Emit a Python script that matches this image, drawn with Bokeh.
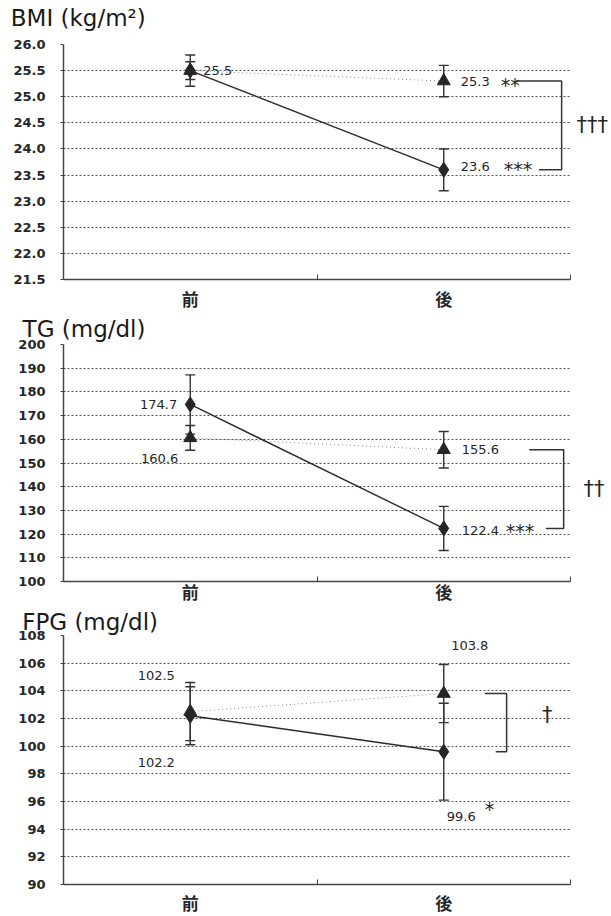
from bokeh.plotting import figure
from bokeh.layouts import column
from bokeh.models import (ColumnDataSource, Whisker, TeeHead, Label, FixedTicker,
                          Range1d, NumeralTickFormatter, LinearAxis, CustomJSTickFormatter)
from bokeh.embed import file_html
from bokeh.resources import INLINE

# ---------------- data ----------------
categories = ["前", "後"]
cat_x = [0, 1]

# diamond series (solid line) and triangle series (dotted line)
bmi_diamond = [25.5, 23.6]
bmi_diamond_se = [0.30, 0.40]
bmi_triangle = [25.5, 25.3]
bmi_triangle_se = [0.17, 0.30]
bmi_ticks = [21.5, 22.0, 22.5, 23.0, 23.5, 24.0, 24.5, 25.0, 25.5, 26.0]

tg_diamond = [174.7, 122.4]
tg_diamond_se = [12.5, 9.3]
tg_triangle = [160.6, 155.6]
tg_triangle_se = [5.2, 7.7]
tg_ticks = [100, 110, 120, 130, 140, 150, 160, 170, 180, 190, 200]

fpg_diamond = [102.2, 99.6]
fpg_diamond_se = [2.1, 3.5]
fpg_triangle = [102.5, 103.8]
fpg_triangle_se = [2.1, 2.1]
fpg_ticks = [90, 92, 94, 96, 98, 100, 102, 104, 106, 108]

bmi_sig = {"triangle_post": "**", "diamond_post": "***", "between": "†††"}
tg_sig = {"diamond_post": "***", "between": "††"}
fpg_sig = {"diamond_post": "*", "between": "†"}

NUM_FONT = "DejaVu Sans"
CAT_FONT = "DejaVu Sans, Noto Sans CJK JP"
INK = "#262626"
W = 611


def text_axis(text, tick, size, standoff):
    """An axis without line/ticks that only carries one text label."""
    return LinearAxis(ticker=FixedTicker(ticks=[tick]),
                      formatter=CustomJSTickFormatter(code="return %r;" % text),
                      axis_line_color=None, major_tick_line_color=None,
                      minor_tick_line_color=None, major_tick_in=0, major_tick_out=0,
                      major_label_text_font=NUM_FONT, major_label_text_font_size=size,
                      major_label_text_color=INK, major_label_standoff=standoff)


def make_panel(title, title_x, title_gap, ticks, fmt, dia, dia_se, tri, tri_se, height,
               border_top, border_bottom, border_left, cat_standoff, labels, bracket,
               dagger, dagger_outside, dagger_standoff=2):
    p = figure(width=W, height=height, output_backend="svg", toolbar_location=None,
               x_range=Range1d(-0.5, 1.5), y_range=Range1d(ticks[0], ticks[-1]),
               min_border_left=border_left, min_border_right=33,
               min_border_top=border_top, min_border_bottom=border_bottom)
    p.outline_line_color = None
    p.background_fill_color = "white"

    # panel title, carried by a bare axis above the frame
    tax = text_axis(title, title_x, "23px", title_gap)
    tax.major_label_text_color = "#1a1a1a"
    p.add_layout(tax, "above")

    # axes
    p.yaxis.ticker = FixedTicker(ticks=ticks)
    p.yaxis.formatter = NumeralTickFormatter(format=fmt)
    p.yaxis.major_label_text_font = NUM_FONT
    p.yaxis.major_label_text_font_style = "bold"
    p.yaxis.major_label_text_font_size = "13px"
    p.yaxis.major_label_text_color = INK
    p.yaxis.major_label_standoff = 15
    p.yaxis.major_tick_out = 3
    p.yaxis.major_tick_in = 0
    p.yaxis.minor_tick_line_color = None
    p.yaxis.axis_line_color = "#444444"
    p.yaxis.axis_line_width = 1.5
    p.yaxis.major_tick_line_color = "#444444"

    xa = p.below[0]
    xa.ticker = FixedTicker(ticks=cat_x, minor_ticks=[-0.5, 0.5, 1.5])
    xa.major_label_overrides = {x: c for x, c in zip(cat_x, categories)}
    xa.major_label_text_font = CAT_FONT
    xa.major_label_text_font_style = "bold"
    xa.major_label_text_font_size = "17px"
    xa.major_label_text_color = INK
    xa.major_label_standoff = cat_standoff
    xa.major_tick_line_color = None
    xa.major_tick_in = 0
    xa.major_tick_out = 0
    xa.minor_tick_in = 5
    xa.minor_tick_out = 0
    xa.minor_tick_line_color = "#444444"
    xa.axis_line_color = "#444444"
    xa.axis_line_width = 1.5

    p.xgrid.visible = False
    p.ygrid.grid_line_color = "#555555"
    p.ygrid.grid_line_dash = "2 2"
    p.ygrid.grid_line_width = 1

    # lines
    p.line(cat_x, tri, line_color="#8c8c8c", line_width=1, line_dash="1 3")
    p.line(cat_x, dia, line_color="#2a2a2a", line_width=1.4)

    # error bars
    for vals, se in ((tri, tri_se), (dia, dia_se)):
        src = ColumnDataSource(dict(x=cat_x, lo=[v - s for v, s in zip(vals, se)],
                                    hi=[v + s for v, s in zip(vals, se)]))
        w = Whisker(base="x", lower="lo", upper="hi", source=src,
                    line_color="#333333", line_width=1.4,
                    upper_head=TeeHead(size=10, line_color="#333333", line_width=1.4),
                    lower_head=TeeHead(size=10, line_color="#333333", line_width=1.4))
        p.add_layout(w)

    # markers
    p.scatter(cat_x, tri, marker="triangle", size=13, fill_color=INK, line_color=INK)
    p.scatter(cat_x, dia, marker="diamond", size=15, fill_color=INK, line_color=INK)

    # value labels (+ significance stars)
    series = {"d": dia, "t": tri}
    for s, i, dx, dy, align, stars, sdx, sdy in labels:
        v = series[s][i]
        p.add_layout(Label(x=cat_x[i], y=v, x_offset=dx, y_offset=dy,
                           text=f"{v:.1f}",
                           text_font=NUM_FONT, text_font_size="13px", text_color=INK,
                           text_align=align, text_baseline="middle"))
        if stars:
            p.add_layout(Label(x=cat_x[i], y=v, x_offset=sdx, y_offset=sdy, text=stars,
                               text_font=NUM_FONT, text_font_size="19px", text_color=INK,
                               text_align="left", text_baseline="alphabetic"))

    # bracket between the post values
    xt, xb, xv = bracket
    p.line([xt, xv, xv, xb], [tri[1], tri[1], dia[1], dia[1]],
           line_color="#333333", line_width=1.5)
    mid = round((tri[1] + dia[1]) / 2, 3)
    if dagger_outside:
        dax = LinearAxis(ticker=FixedTicker(ticks=[mid]),
                         formatter=CustomJSTickFormatter(code="return %r;" % dagger),
                         axis_line_color=None, major_tick_line_color=None,
                         minor_tick_line_color=None,
                         major_label_text_font=NUM_FONT, major_label_text_font_size="21px",
                         major_label_text_color=INK, major_label_standoff=dagger_standoff)
        p.add_layout(dax, "right")
    else:
        p.add_layout(Label(x=xv + 0.16, y=mid, y_offset=8,
                           text=dagger, text_font=NUM_FONT,
                           text_font_size="21px", text_color=INK, text_align="center",
                           text_baseline="middle"))
    return p


p1 = make_panel("BMI (kg/m²)", -0.4417, 14, bmi_ticks, "0.0",
                bmi_diamond, bmi_diamond_se, bmi_triangle, bmi_triangle_se,
                312, 44, 32, 63, 10,
                [("d", 0, 13, 0, "left", "", 0, 0),
                 ("t", 1, 17, 0, "left", bmi_sig["triangle_post"], 57, -4),
                 ("d", 1, 17, 3, "left", bmi_sig["diamond_post"], 60, 1)],
                (1.286, 1.376, 1.465), bmi_sig["between"], True, 0)

p2 = make_panel("TG (mg/dl)", -0.419, 3, tg_ticks, "0",
                tg_diamond, tg_diamond_se, tg_triangle, tg_triangle_se,
                293, 32, 24, 59, 1,
                [("d", 0, -13, 0, "right", "", 0, 0),
                 ("t", 0, -12, -21, "right", "", 0, 0),
                 ("t", 1, 18, 0, "left", "", 0, 0),
                 ("d", 1, 18, -2, "left", tg_sig["diamond_post"], 62, -3)],
                (1.337, 1.403, 1.473), tg_sig["between"], True, 7)

p3 = make_panel("FPG (mg/dl)", -0.395, 1, fpg_ticks, "0",
                fpg_diamond, fpg_diamond_se, fpg_triangle, fpg_triangle_se,
                311, 30, 32, 63, 9,
                [("t", 0, -34, 36, "center", "", 0, 0),
                 ("d", 0, -34, -47, "center", "", 0, 0),
                 ("t", 1, 26, 48, "center", "", 0, 0),
                 ("d", 1, 3, -65, "left", fpg_sig["diamond_post"], 41, -57)],
                (1.162, 1.205, 1.248), fpg_sig["between"], False)

layout = column(p1, p2, p3, spacing=0)
open("out.html", "w").write(file_html(layout, INLINE))
